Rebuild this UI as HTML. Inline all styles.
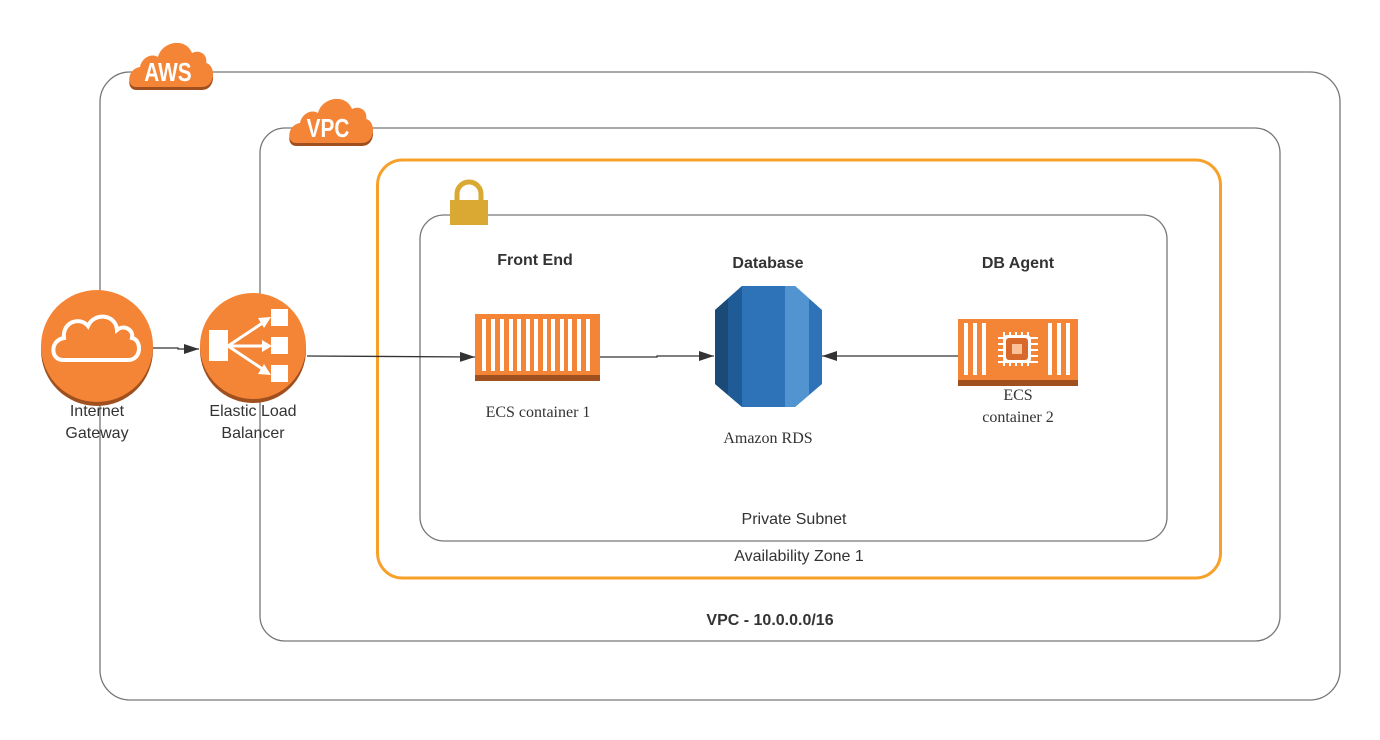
<!DOCTYPE html>
<html><head><meta charset="utf-8"><style>
html,body{margin:0;padding:0;background:#fff;}
svg{display:block;}
text{font-family:"Liberation Sans",sans-serif;}
.serif{font-family:"Liberation Serif",serif;}
</style></head><body>
<svg width="1380" height="740" viewBox="0 0 1380 740" xmlns="http://www.w3.org/2000/svg">
<defs>
<marker id="ar" markerWidth="16" markerHeight="10" refX="15" refY="5" orient="auto" markerUnits="userSpaceOnUse"><path d="M0,0 L15,5 L0,10 Z" fill="#333"/></marker>
<g id="cloud"><path d="M6,48 C-4,48 -3,30 10,28 C12,18 22,14 28,18 C32,2 56,-2 62,14 C70,10 78,16 76,24 C86,26 86,48 72,48 Z" /></g>
<clipPath id="oct"><path d="M742,286 L795,286 L822,310 L822,384 L795,407 L742,407 L715,384 L715,310 Z"/></clipPath>
</defs>
<rect x="100" y="72" width="1240" height="628" rx="30" fill="none" stroke="#777" stroke-width="1.3"/>
<rect x="260" y="128" width="1020" height="513" rx="25" fill="none" stroke="#777" stroke-width="1.3"/>
<rect x="377.5" y="160" width="843" height="418" rx="25" fill="none" stroke="#f7a02a" stroke-width="3"/>
<rect x="420" y="215" width="747" height="326" rx="24" fill="none" stroke="#777" stroke-width="1.3"/>

<g transform="translate(130,39)"><use href="#cloud" fill="#a0501f" transform="translate(0,3)"/><use href="#cloud" fill="#f58536"/></g>
<text x="168" y="81" font-size="26" font-weight="bold" fill="#fff" text-anchor="middle" transform="translate(168,0) scale(0.8,1) translate(-168,0)">AWS</text>
<g transform="translate(290,95)"><use href="#cloud" fill="#a0501f" transform="translate(0,3)"/><use href="#cloud" fill="#f58536"/></g>
<text x="328" y="137" font-size="26" font-weight="bold" fill="#fff" text-anchor="middle" transform="translate(328,0) scale(0.8,1) translate(-328,0)">VPC</text>

<path d="M457,200 v-6 a12,12 0 0 1 24,0 v6" fill="none" stroke="#d9a933" stroke-width="5"/>
<rect x="450" y="200" width="38" height="25" fill="#d9a933"/>

<circle cx="97" cy="350" r="56" fill="#a0501f"/>
<circle cx="97" cy="346" r="56" fill="#f58536"/>
<path d="M63,360 C50,360 50,340 64,338 C62,322 80,316 88,326 C94,312 116,314 117,330 C124,324 134,330 132,338 C142,340 142,360 128,360 Z" fill="none" stroke="#fff" stroke-width="4"/>
<text x="97" y="416" font-size="16" fill="#333" text-anchor="middle">Internet</text>
<text x="97" y="438" font-size="16" fill="#333" text-anchor="middle">Gateway</text>

<circle cx="253" cy="350" r="53" fill="#a0501f"/>
<circle cx="253" cy="346" r="53" fill="#f58536"/>
<rect x="209" y="330" width="19" height="31" fill="#fff"/>
<rect x="271" y="309" width="17" height="17" fill="#fff"/>
<rect x="271" y="337" width="17" height="17" fill="#fff"/>
<rect x="271" y="365" width="17" height="17" fill="#fff"/>
<g stroke="#fff" stroke-width="3"><line x1="228" y1="346" x2="264" y2="322"/><line x1="228" y1="346" x2="266" y2="346"/><line x1="228" y1="346" x2="264" y2="370"/></g>
<g fill="#fff"><path d="M271,317 L258,318 L264,328 Z"/><path d="M272,346 L262,340 L262,352 Z"/><path d="M271,375 L258,374 L264,364 Z"/></g>
<text x="253" y="416" font-size="16" fill="#333" text-anchor="middle">Elastic Load</text>
<text x="253" y="438" font-size="16" fill="#333" text-anchor="middle">Balancer</text>

<g stroke="#333" stroke-width="1.3" fill="none">
<polyline points="153,348 178,348 178,349 199,349" marker-end="url(#ar)"/>
<line x1="307" y1="356" x2="475" y2="357" marker-end="url(#ar)"/>
<polyline points="600,357 657,357 657,356 714,356" marker-end="url(#ar)"/>
<line x1="958" y1="356" x2="822" y2="356" marker-end="url(#ar)"/>
</g>

<rect x="475" y="314" width="125" height="67" fill="#f58536"/>
<rect x="475" y="375" width="125" height="6" fill="#a0501f"/>
<g fill="#fff">
<rect x="482" y="319" width="4" height="52"/><rect x="491" y="319" width="4" height="52"/><rect x="500" y="319" width="4" height="52"/><rect x="509" y="319" width="4" height="52"/><rect x="517" y="319" width="4" height="52"/><rect x="526" y="319" width="4" height="52"/><rect x="534" y="319" width="4" height="52"/><rect x="543" y="319" width="4" height="52"/><rect x="551" y="319" width="4" height="52"/><rect x="560" y="319" width="4" height="52"/><rect x="568" y="319" width="4" height="52"/><rect x="577" y="319" width="4" height="52"/><rect x="586" y="319" width="4" height="52"/>
</g>
<text x="535" y="265" font-size="16" font-weight="bold" fill="#333" text-anchor="middle">Front End</text>
<text x="538" y="417" font-size="16" fill="#333" text-anchor="middle" class="serif">ECS container 1</text>

<g clip-path="url(#oct)">
<rect x="715" y="286" width="107" height="121" fill="#2e73b8"/>
<rect x="715" y="286" width="13" height="121" fill="#1a4a75"/>
<rect x="728" y="286" width="14" height="121" fill="#1f5b96"/>
<rect x="785" y="286" width="24" height="121" fill="#5294cf"/>
</g>
<text x="768" y="268" font-size="16" font-weight="bold" fill="#333" text-anchor="middle">Database</text>
<text x="768" y="443" font-size="16" fill="#333" text-anchor="middle" class="serif">Amazon RDS</text>

<rect x="958" y="319" width="120" height="67" fill="#f58536"/>
<rect x="958" y="380" width="120" height="6" fill="#a0501f"/>
<g fill="#fff">
<rect x="964" y="323" width="4" height="52"/><rect x="973" y="323" width="4" height="52"/><rect x="982" y="323" width="4" height="52"/>
<rect x="1048" y="323" width="4" height="52"/><rect x="1057" y="323" width="4" height="52"/><rect x="1066" y="323" width="4" height="52"/>
</g>
<g stroke="#fff" stroke-width="2">
<line x1="1004" y1="332" x2="1004" y2="366"/><line x1="1010" y1="332" x2="1010" y2="366"/><line x1="1016" y1="332" x2="1016" y2="366"/><line x1="1022" y1="332" x2="1022" y2="366"/><line x1="1028" y1="332" x2="1028" y2="366"/>
<line x1="998" y1="338" x2="1038" y2="338"/><line x1="998" y1="344" x2="1038" y2="344"/><line x1="998" y1="350" x2="1038" y2="350"/><line x1="998" y1="356" x2="1038" y2="356"/><line x1="998" y1="362" x2="1038" y2="362"/>
</g>
<rect x="1003" y="335" width="28" height="28" rx="4" fill="#fff"/>
<rect x="1006" y="338" width="22" height="22" rx="3" fill="#d9692a"/>
<rect x="1012" y="344" width="10" height="10" fill="#fbc29a"/>
<text x="1018" y="268" font-size="16" font-weight="bold" fill="#333" text-anchor="middle">DB Agent</text>
<text x="1018" y="400" font-size="16" fill="#333" text-anchor="middle" class="serif">ECS</text>
<text x="1018" y="422" font-size="16" fill="#333" text-anchor="middle" class="serif">container 2</text>

<text x="794" y="524" font-size="16" fill="#333" text-anchor="middle">Private Subnet</text>
<text x="799" y="561" font-size="16" fill="#333" text-anchor="middle">Availability Zone 1</text>
<text x="770" y="625" font-size="16" font-weight="bold" fill="#333" text-anchor="middle">VPC - 10.0.0.0/16</text>
</svg>
</body></html>
